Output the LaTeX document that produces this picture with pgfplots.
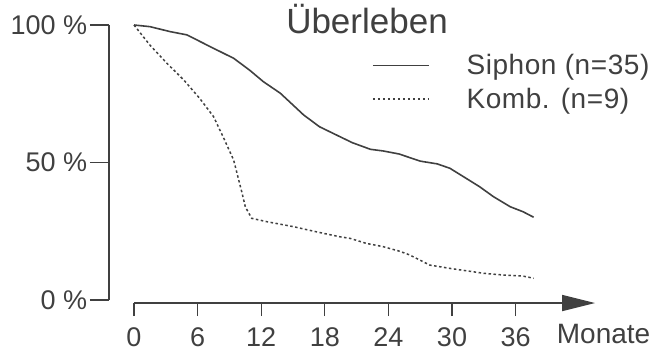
\documentclass[border=0pt]{standalone}
\usepackage{pgfplots}
\pgfplotsset{compat=1.18}
\usetikzlibrary{arrows.meta}
\usepackage{fontspec}
\setmainfont{Liberation Sans}
\definecolor{ink}{HTML}{404040}
\begin{document}
\begin{tikzpicture}[x=1bp,y=1bp]
\useasboundingbox (0,0) rectangle (654,351);
\node[anchor=base, text=ink, font=\fontsize{35bp}{40bp}\selectfont, inner sep=0pt] at (367,318) {Überleben};
\begin{axis}[
  anchor=origin, at={(134bp,51bp)},
  x=10.6bp, y=2.75bp,
  xmin=-2.36, xmax=44.5, ymin=-1.1, ymax=101,
  clip=false,
  axis lines=left,
  axis line style={draw=none,-},
  tick align=outside,
  xtick={0,6,12,18,24,30,36}, xticklabels={0,6,12,18,24,30,36},
  ytick={0,50,100}, yticklabels={0 \%,50 \%,100 \%},
  minor tick num=0,
  xtick style={draw=ink, line width=1.3bp, /pgfplots/major tick length=13bp},
  ytick style={draw=ink, line width=1.3bp, /pgfplots/major tick length=19bp},
  tick label style={text=ink, font=\fontsize{27bp}{32bp}\selectfont},
  xticklabel style={yshift=-16.5bp},
  yticklabel style={xshift=-14bp},
  /pgf/number format/assume math mode=true,
  xlabel={Monate},
  xlabel style={at={(axis cs:44.3,-1.1)}, anchor=north, yshift=-17.5bp, text=ink, font=\fontsize{28bp}{32bp}\selectfont},
  legend cell align=left,
  legend style={draw=none, fill=none, at={(axis cs:22.45,89.2)}, anchor=north west,
    inner sep=0pt, outer sep=0pt, row sep=11.7bp, column sep=37bp,
    nodes={inner sep=0pt, text=ink, font=\fontsize{28bp}{32bp}\selectfont\addfontfeature{LetterSpace=2}}},
  legend image code/.code={\draw[#1] (0bp,0bp) -- (56bp,0bp);},
]
\draw[ink, line width=1.6bp] (axis cs:-2.36,0) -- (axis cs:-2.36,100);
\draw[ink, line width=1.6bp, -{Triangle[length=33bp,width=16bp]}] (axis cs:0,-1.1) -- (axis cs:43.5,-1.1);
\addplot[ink, line width=1.6bp] table {
x y
0 100
1.5 99.4
3.4 97.6
5.0 96.4
7.2 92.1
9.4 87.9
10.9 83.6
12.2 79.4
13.8 75.2
15.0 70.9
16.0 67.3
17.5 63.0
19.1 60.0
20.6 57.2
22.3 54.8
23.5 54.2
25.0 53.1
27.0 50.5
28.6 49.5
29.8 47.9
31.1 44.8
32.6 41.2
33.9 37.6
35.5 33.9
36.7 32.1
37.7 30.1
};
\addlegendentry{Siphon (n=35)}
\addplot[ink, line width=1.5bp, dash pattern=on 2.5bp off 2.5bp] table {
x y
0 100
1.5 92.7
3.1 86.1
4.7 80.0
6.2 73.3
7.5 66.7
8.4 59.4
9.4 50.9
9.8 44.8
10.2 38.8
10.5 33.9
11.1 29.7
12.5 28.5
15.0 26.7
17.2 24.8
19.4 23.0
20.4 22.4
21.9 20.6
23.5 19.4
25.0 17.8
26.0 16.4
27.9 12.7
29.8 11.5
33.0 9.7
34.8 9.1
36.7 8.7
37.7 7.9
};
\addlegendentry{Komb. (n=9)}
\end{axis}
\end{tikzpicture}
\end{document}
